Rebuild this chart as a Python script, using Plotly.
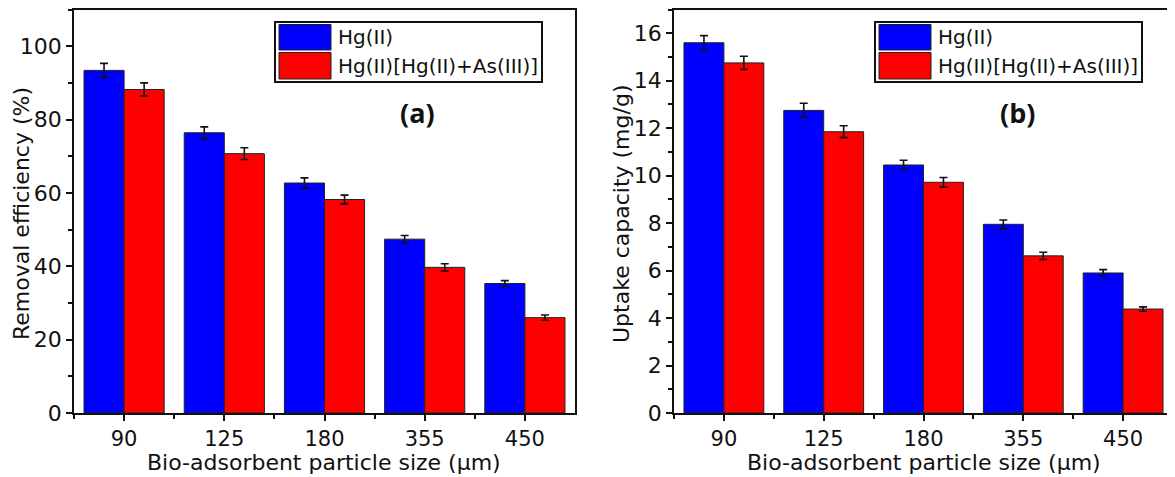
import plotly.graph_objects as go

# ---------------- data ----------------
categories = ["90", "125", "180", "355", "450"]
series_names = ["Hg(II)", "Hg(II)[Hg(II)+As(III)]"]

removal_hg = [93.4, 76.4, 62.7, 47.4, 35.3]
removal_hg_err = [1.9, 1.6, 1.4, 1.0, 0.8]
removal_mix = [88.2, 70.7, 58.2, 39.7, 26.0]
removal_mix_err = [1.8, 1.6, 1.2, 1.0, 0.7]

uptake_hg = [15.6, 12.75, 10.45, 7.95, 5.9]
uptake_hg_err = [0.3, 0.3, 0.2, 0.18, 0.14]
uptake_mix = [14.75, 11.85, 9.72, 6.62, 4.38]
uptake_mix_err = [0.28, 0.25, 0.2, 0.15, 0.09]

y_titles = ["Removal efficiency (%)", "Uptake capacity (mg/g)"]
x_title = "Bio-adsorbent particle size (\u03bcm)"
panel_labels = ["(a)", "(b)"]
colors = ["#0000FF", "#FF0000"]

# ---------------- layout helpers ----------------
W, H = 1175, 477          # target picture size
OFF = 8                   # page body margin
FW, FH = W - OFF, H - OFF  # figure reaches the window's right / bottom edge

def px(x):
    return (x - OFF) / FW

def py(y):
    return 1 - (y - OFF) / FH

FONT = "DejaVu Sans, Arial, sans-serif"
pos = list(range(len(categories)))

fig = go.Figure()
panels = [
    (removal_hg, removal_hg_err, removal_mix, removal_mix_err, "x", "y"),
    (uptake_hg, uptake_hg_err, uptake_mix, uptake_mix_err, "x2", "y2"),
]
for hg, hg_e, mix, mix_e, xa, ya in panels:
    for name, vals, errs, col in [(series_names[0], hg, hg_e, colors[0]),
                                  (series_names[1], mix, mix_e, colors[1])]:
        fig.add_trace(go.Bar(
            x=pos, y=vals, name=name, xaxis=xa, yaxis=ya,
            marker=dict(color=col, line=dict(color="#222222", width=1)),
            error_y=dict(type="data", array=errs, visible=True,
                         color="#111111", thickness=1.6, width=4),
            showlegend=False,
        ))

panel_left = [74, 674]
panel_right = [575, 1173]
y_top, y_bot = 9.5, 413

def xaxis_cfg(i):
    return dict(
        domain=[px(panel_left[i]), min(1.0, px(panel_right[i]))],
        anchor="y" if i == 0 else "y2",
        range=[-0.5, 4.5],
        tickmode="array", tickvals=pos, ticktext=categories,
        ticks="outside", ticklen=6, tickwidth=1.5, tickcolor="#111",
        minor=dict(tickmode="array", tickvals=[-0.5, 0.5, 1.5, 2.5, 3.5],
                   ticks="outside", ticklen=4, tickwidth=1.5, tickcolor="#111"),
        showline=True, linecolor="#111", linewidth=1.5, mirror=True,
        showgrid=False, zeroline=False, automargin=False,
        tickfont=dict(family=FONT, size=21, color="#111"),
    )

def yaxis_cfg(i, rng, dtick):
    return dict(
        domain=[py(y_bot), py(y_top)],
        anchor="x" if i == 0 else "x2",
        range=rng, dtick=dtick, tick0=0,
        ticks="outside", ticklen=6, tickwidth=1.5, tickcolor="#111",
        minor=dict(dtick=dtick / 2, tick0=0, ticks="outside", ticklen=4,
                   tickwidth=1.5, tickcolor="#111"),
        showline=True, linecolor="#111", linewidth=1.5, mirror=True,
        showgrid=False, zeroline=False, automargin=False,
        tickfont=dict(family=FONT, size=22, color="#111"),
    )

fig.update_layout(
    width=FW, height=FH,
    margin=dict(l=0, r=0, t=0, b=0),
    paper_bgcolor="white", plot_bgcolor="white",
    barmode="group", bargap=0.2, bargroupgap=0,
    xaxis=xaxis_cfg(0), xaxis2=xaxis_cfg(1),
    yaxis=yaxis_cfg(0, [0, 110], 20), yaxis2=yaxis_cfg(1, [0, 17], 2),
    showlegend=False,
)

shapes = []
annotations = []
for i in range(2):
    L = panel_left[i]
    # legend box
    shapes.append(dict(type="rect", xref="paper", yref="paper",
                       x0=px(L + 201), x1=px(L + 468), y0=py(82), y1=py(22),
                       line=dict(color="#111", width=2), fillcolor="white"))
    for k, (ya, yb) in enumerate([(24.5, 50), (52.5, 79)]):
        shapes.append(dict(type="rect", xref="paper", yref="paper",
                           x0=px(L + 205), x1=px(L + 257), y0=py(yb), y1=py(ya),
                           line=dict(color="#222", width=1), fillcolor=colors[k]))
        annotations.append(dict(xref="paper", yref="paper",
                                x=px(L + 262), y=py((ya + yb) / 2),
                                xanchor="left", yanchor="middle", showarrow=False,
                                text=series_names[k],
                                font=dict(family=FONT, size=20, color="#111")))
    # panel label
    annotations.append(dict(xref="paper", yref="paper", x=px(L + 343), y=py(112),
                            xanchor="center", yanchor="middle", showarrow=False,
                            text="<b>" + panel_labels[i] + "</b>",
                            font=dict(family="Open Sans, Arial", size=27, color="#111")))
    # y title
    annotations.append(dict(xref="paper", yref="paper", x=px(L - 52), y=py(214),
                            xanchor="center", yanchor="middle", showarrow=False,
                            textangle=-90, text=y_titles[i],
                            font=dict(family=FONT, size=22, color="#111")))
    # x title
    annotations.append(dict(xref="paper", yref="paper", x=px(L + 250), y=py(462),
                            xanchor="center", yanchor="middle", showarrow=False,
                            text=x_title,
                            font=dict(family=FONT, size=22, color="#111")))

fig.update_layout(shapes=shapes, annotations=annotations)
fig.write_html("out.html")
